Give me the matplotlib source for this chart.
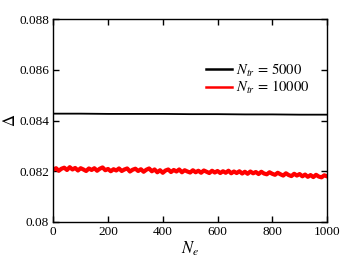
import numpy as np
import matplotlib
matplotlib.use('Agg')
import matplotlib.pyplot as plt

plt.rcParams['font.family'] = ['Liberation Serif', 'DejaVu Serif']
plt.rcParams['mathtext.fontset'] = 'stix'

# N_tr = 5000 (nearly flat)
ne_black = np.arange(0, 1001, 100)
delta_black = [0.08427, 0.08427, 0.08426, 0.08426, 0.08426, 0.08425,
               0.08425, 0.08424, 0.08424, 0.08423, 0.08423]

# N_tr = 10000 (noisy), read every 10 units of N_e
ne_red = np.arange(0, 1001, 10)
delta_red = [
    0.08206, 0.08212, 0.08202, 0.08210, 0.08214, 0.08205, 0.08216, 0.08207, 0.08213, 0.08203, 0.08212,
    0.08207, 0.08201, 0.08211, 0.08205, 0.08212, 0.08202, 0.08210, 0.08215, 0.08204, 0.08209,
    0.08200, 0.08208, 0.08203, 0.08211, 0.08201, 0.08207, 0.08211, 0.08199, 0.08206, 0.08210,
    0.08201, 0.08208, 0.08198, 0.08206, 0.08211, 0.08200, 0.08207, 0.08196, 0.08204, 0.08194,
    0.08203, 0.08207, 0.08197, 0.08205, 0.08199, 0.08207, 0.08196, 0.08204, 0.08199, 0.08195,
    0.08204, 0.08196, 0.08202, 0.08194, 0.08203, 0.08198, 0.08193, 0.08202, 0.08195, 0.08201,
    0.08193, 0.08200, 0.08194, 0.08202, 0.08192, 0.08199, 0.08193, 0.08200, 0.08191, 0.08198,
    0.08190, 0.08199, 0.08192, 0.08197, 0.08189, 0.08198, 0.08191, 0.08188, 0.08196, 0.08190,
    0.08186, 0.08194, 0.08188, 0.08183, 0.08192, 0.08185, 0.08181, 0.08190, 0.08183, 0.08189,
    0.08180, 0.08187, 0.08178, 0.08185, 0.08177, 0.08186, 0.08179, 0.08176, 0.08184, 0.08180,
]

xticks = [0, 200, 400, 600, 800, 1000]
yticks = [0.080, 0.082, 0.084, 0.086, 0.088]
ytick_labels = ['0.08', '0.082', '0.084', '0.086', '0.088']

fig = plt.figure(figsize=(3.53, 2.58), dpi=100)
ax = fig.add_axes([53.3 / 353, 1 - 222 / 258, (327 - 53.3) / 353, (222 - 19) / 258])

ax.plot(ne_black, delta_black, color='black', lw=1.3, label=r'$N_{tr}\, =\, 5000$')
ax.plot(ne_red, delta_red, color='red', lw=3.0, label=r'$N_{tr}\, =\, 10000$')

ax.set_xlim(0, 1000)
ax.set_ylim(0.080, 0.088)
ax.set_xticks(xticks)
ax.set_yticks(yticks)
ax.set_yticklabels(ytick_labels)
ax.tick_params(direction='in', top=True, right=True, length=4, width=1,
               labelsize=9.5, pad=3)
for s in ax.spines.values():
    s.set_linewidth(1.0)

ax.set_xlabel(r'$N_e$', fontsize=12, labelpad=1)
ax.set_ylabel(r'$\Delta$', fontsize=12, labelpad=0)

leg = ax.legend(loc='upper left', bbox_to_anchor=(0.51, 0.855), frameon=False,
                fontsize=10.5, handlelength=1.8, handletextpad=0.25, labelspacing=0.0)
for h in leg.get_lines():
    h.set_linewidth(1.8)

fig.savefig('out.png', dpi=100)
